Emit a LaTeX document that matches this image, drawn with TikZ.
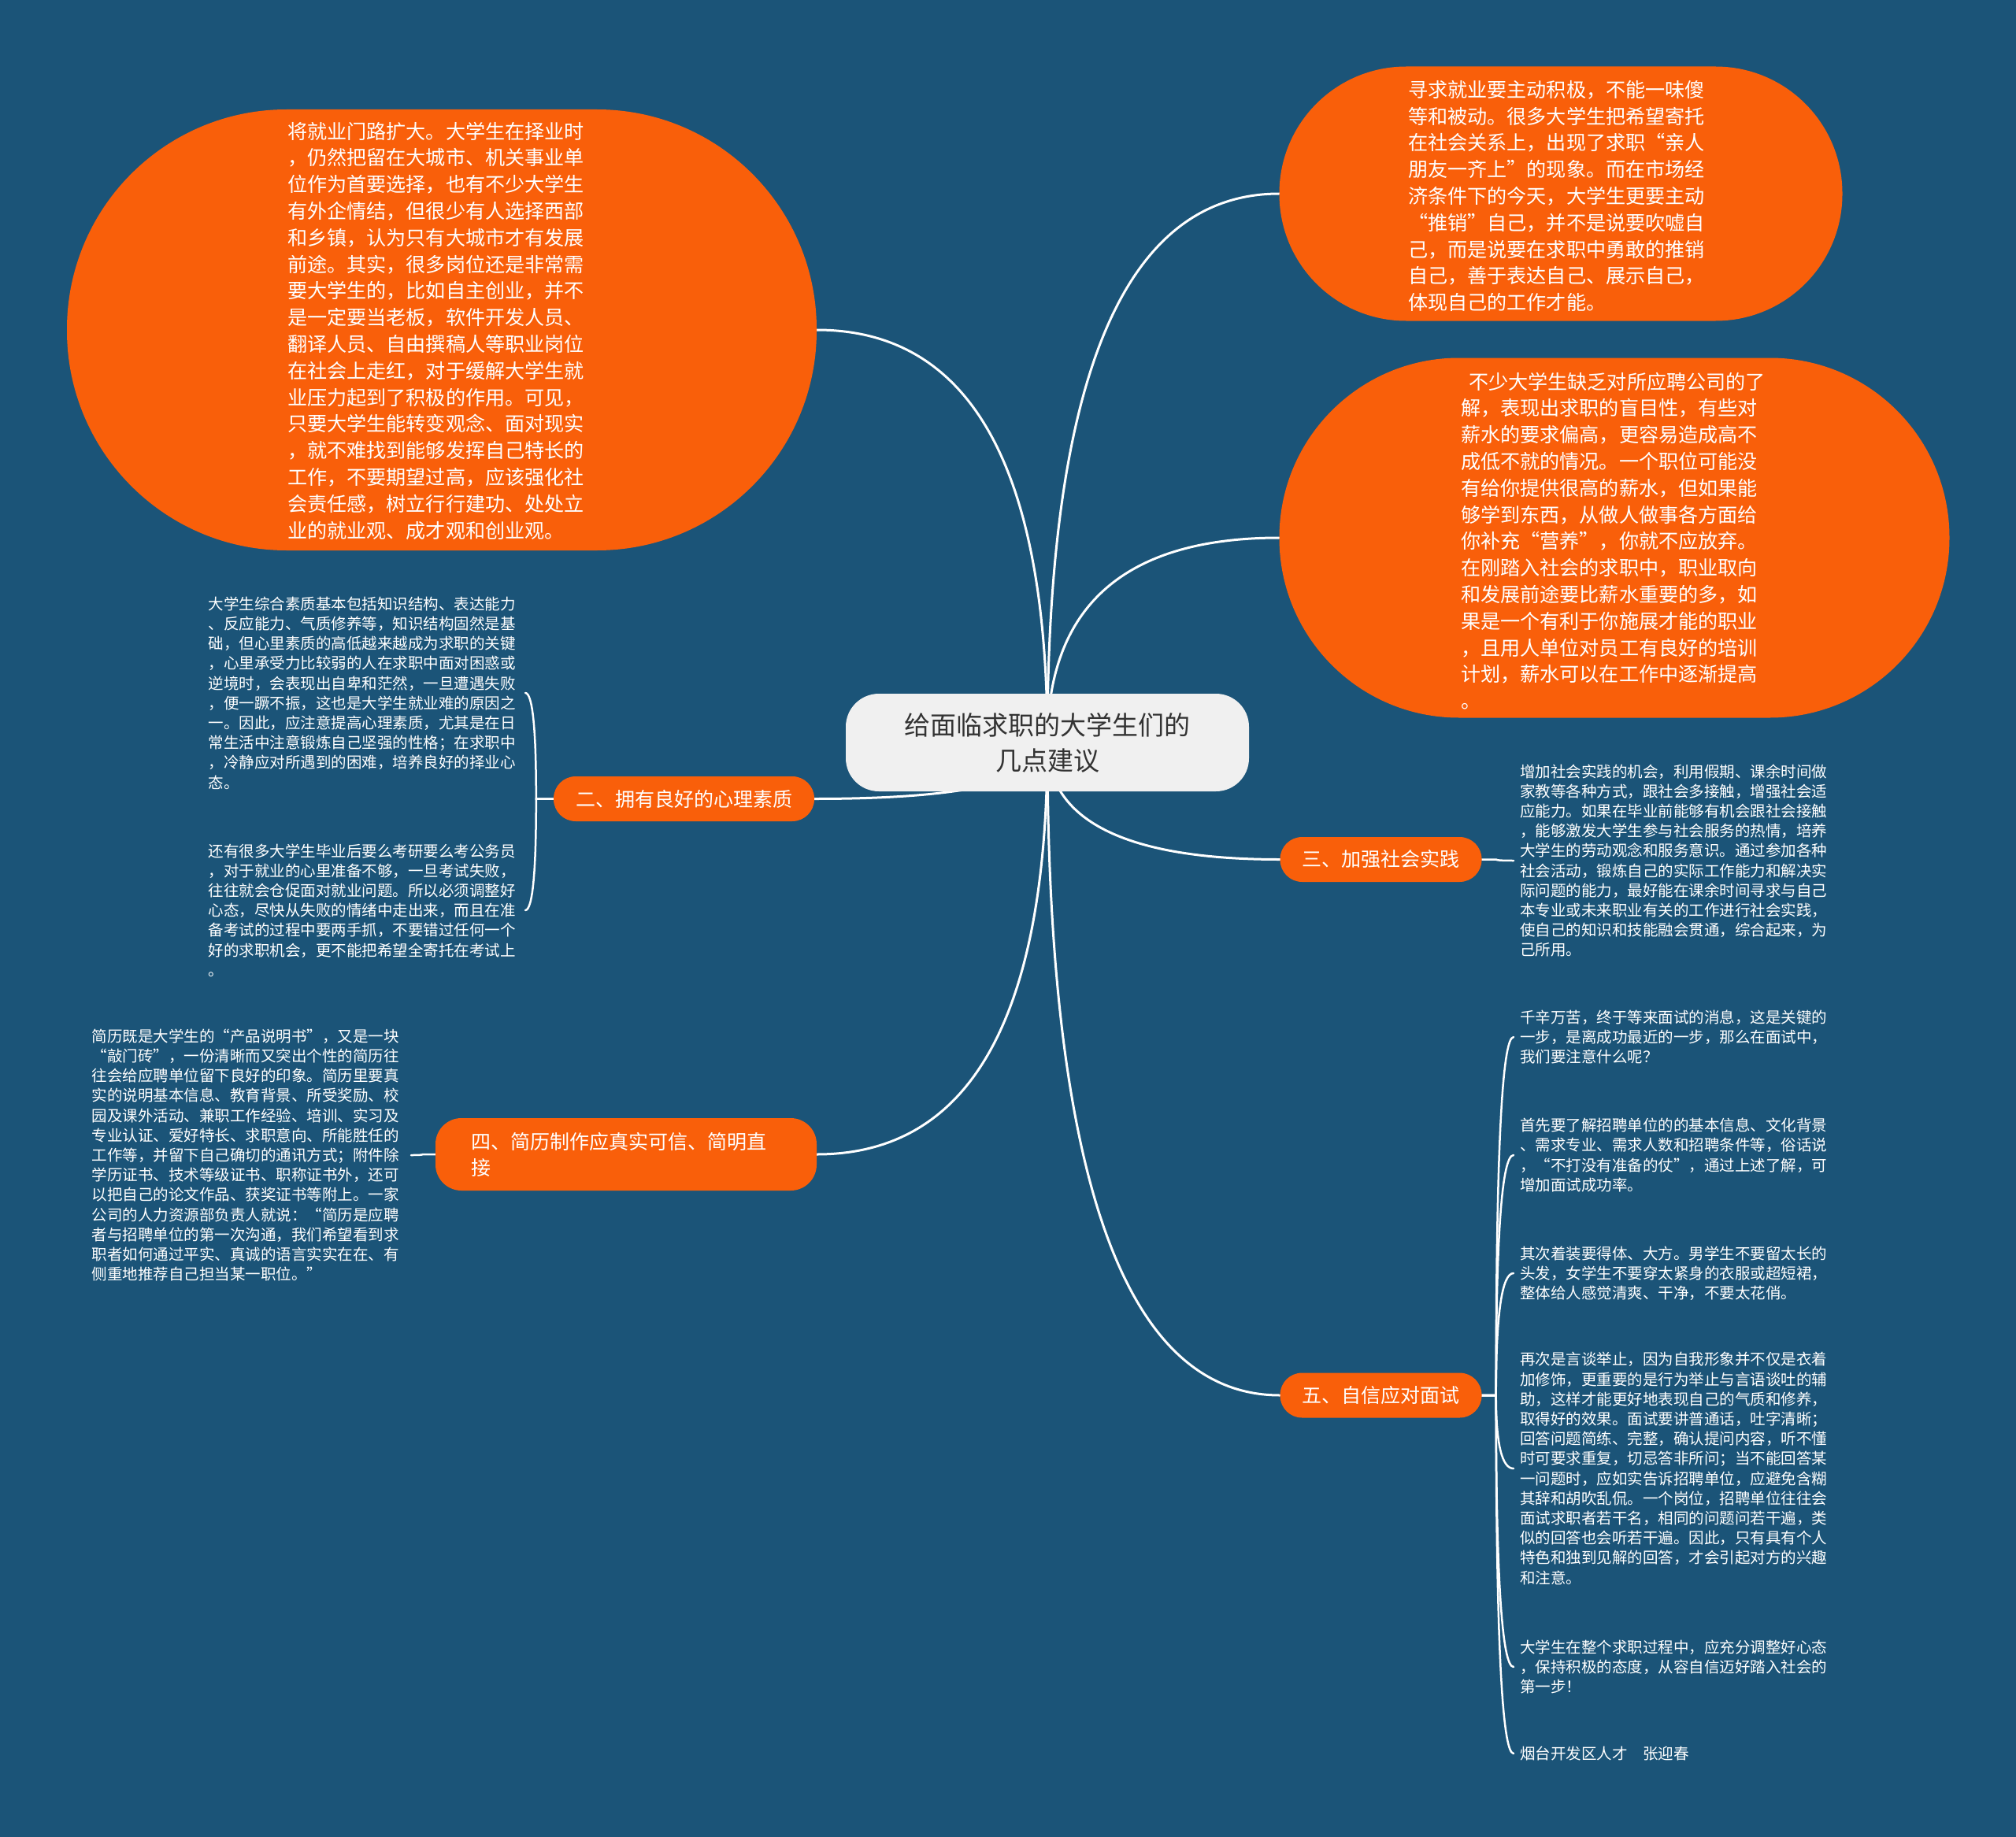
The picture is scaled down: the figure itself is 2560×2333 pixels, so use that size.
\documentclass[tikz,border=0pt]{standalone}
\usepackage{fontspec}
\setmainfont{Noto Sans CJK SC}
\usetikzlibrary{calc}
\definecolor{bgc}{HTML}{1B5478}
\definecolor{orn}{HTML}{F95F0A}
\definecolor{rootc}{HTML}{F0F0F0}
\definecolor{roottxt}{HTML}{333333}
\pgfdeclarelayer{bgl}
\pgfdeclarelayer{linkl}
\pgfsetlayers{bgl,linkl,main}
\tikzset{
  rootnode/.style={fill=rootc, text=roottxt, rounded corners=42pt, minimum width=512pt, minimum height=124pt, align=center, inner sep=0pt, font=\fontsize{33pt}{45pt}\selectfont},
  blob/.style={fill=orn, inner sep=0pt},
  blobtext/.style={text=white, align=left, text width=384pt, inner sep=0pt, anchor=west, font=\fontsize{25.1pt}{33.8pt}\selectfont},
  topic/.style={fill=orn, text=white, rounded corners=28pt, minimum height=57pt, inner xsep=28pt, inner ysep=0pt, font=\fontsize{25pt}{33pt}\selectfont},
  leaf/.style={text=white, align=left, text width=397pt, inner xsep=5pt, inner ysep=2pt, font=\fontsize{19.5pt}{25.2pt}\selectfont},
  link/.style={draw=white, line width=3pt, line cap=round},
  sublink/.style={draw=white, line width=2.5pt, line cap=round},
  rootlink/.style={to path={let \p1=(\tikztostart), \p2=(\tikztotarget) in
     .. controls (\x1,{\y1+0.6667*(\y2-\y1)}) and ({\x2+0.6667*(\x1-\x2)},\y2) .. (\tikztotarget)}},
  leaflink/.style={to path={let \p1=(\tikztostart), \p2=(\tikztotarget), \p3=({\x1+(#1)},\y1) in
     -- (\p3) .. controls (\x3,{\y3+0.6667*(\y2-\y3)}) and ({\x2+0.6667*(\x3-\x2)},\y2) .. (\tikztotarget)}},
}
\begin{document}
\begin{tikzpicture}[x=1pt,y=-1pt]
\useasboundingbox (0,0) rectangle (2560,2333);
\begin{pgfonlayer}{bgl}
\fill[bgc] (0,0) rectangle (2560,2333);
\end{pgfonlayer}

\node[rootnode] (root) at (1330,943) {给面临求职的大学生们的\\几点建议};

\node[blob, minimum width=952pt, minimum height=560pt, rounded corners=279pt] (tl) at (561,419) {};
\node[blobtext] (tltext) at (365,420) {将就业门路扩大。大学生在择业时\\
，仍然把留在大城市、机关事业单\\
位作为首要选择，也有不少大学生\\
有外企情结，但很少有人选择西部\\
和乡镇，认为只有大城市才有发展\\
前途。其实，很多岗位还是非常需\\
要大学生的，比如自主创业，并不\\
是一定要当老板，软件开发人员、\\
翻译人员、自由撰稿人等职业岗位\\
在社会上走红，对于缓解大学生就\\
业压力起到了积极的作用。可见，\\
只要大学生能转变观念、面对现实\\
，就不难找到能够发挥自己特长的\\
工作，不要期望过高，应该强化社\\
会责任感，树立行行建功、处处立\\
业的就业观、成才观和创业观。};

\node[blob, minimum width=715pt, minimum height=323pt, rounded corners=161pt] (tr) at (1982,246) {};
\node[blobtext] (trtext) at (1788,249) {寻求就业要主动积极，不能一味傻\\
等和被动。很多大学生把希望寄托\\
在社会关系上，出现了求职“亲人\\
朋友一齐上”的现象。而在市场经\\
济条件下的今天，大学生更要主动\\
“推销”自己，并不是说要吹嘘自\\
己，而是说要在求职中勇敢的推销\\
自己，善于表达自己、展示自己，\\
体现自己的工作才能。};

\node[blob, minimum width=851pt, minimum height=457pt, rounded corners=228pt] (rr) at (2050,683) {};
\node[blobtext] (rrtext) at (1855,687) {\hspace*{10pt}不少大学生缺乏对所应聘公司的了\\
解，表现出求职的盲目性，有些对\\
薪水的要求偏高，更容易造成高不\\
成低不就的情况。一个职位可能没\\
有给你提供很高的薪水，但如果能\\
够学到东西，从做人做事各方面给\\
你补充“营养”，你就不应放弃。\\
在刚踏入社会的求职中，职业取向\\
和发展前途要比薪水重要的多，如\\
果是一个有利于你施展才能的职业\\
，且用人单位对员工有良好的培训\\
计划，薪水可以在工作中逐渐提高\\
。};

\node[topic] (t2) at (868.5,1014.5) {二、拥有良好的心理素质};
\node[topic] (t3) at (1753.5,1091.5) {三、加强社会实践};
\node[topic, text width=394pt, align=left, minimum width=484pt, minimum height=92pt, rounded corners=33pt, inner xsep=45pt] (t4) at (795,1466) {四、简历制作应真实可信、简明直\\接};
\node[topic] (t5) at (1753.5,1772) {五、自信应对面试};

\node[leaf, anchor=east] (l21) at (667,880) {大学生综合素质基本包括知识结构、表达能力\\
、反应能力、气质修养等，知识结构固然是基\\
础，但心里素质的高低越来越成为求职的关键\\
，心里承受力比较弱的人在求职中面对困惑或\\
逆境时，会表现出自卑和茫然，一旦遭遇失败\\
，便一蹶不振，这也是大学生就业难的原因之\\
一。因此，应注意提高心理素质，尤其是在日\\
常生活中注意锻炼自己坚强的性格；在求职中\\
，冷静应对所遇到的困难，培养良好的择业心\\
态。};
\node[leaf, anchor=east] (l22) at (667,1156) {还有很多大学生毕业后要么考研要么考公务员\\
，对于就业的心里准备不够，一旦考试失败，\\
往往就会仓促面对就业问题。所以必须调整好\\
心态，尽快从失败的情绪中走出来，而且在准\\
备考试的过程中要两手抓，不要错过任何一个\\
好的求职机会，更不能把希望全寄托在考试上\\
。};
\node[leaf, anchor=east, text width=400pt] (l41) at (522,1467) {简历既是大学生的“产品说明书”，又是一块\\
“敲门砖”，一份清晰而又突出个性的简历往\\
往会给应聘单位留下良好的印象。简历里要真\\
实的说明基本信息、教育背景、所受奖励、校\\
园及课外活动、兼职工作经验、培训、实习及\\
专业认证、爱好特长、求职意向、所能胜任的\\
工作等，并留下自己确切的通讯方式；附件除\\
学历证书、技术等级证书、职称证书外，还可\\
以把自己的论文作品、获奖证书等附上。一家\\
公司的人力资源部负责人就说：“简历是应聘\\
者与招聘单位的第一次沟通，我们希望看到求\\
职者如何通过平实、真诚的语言实实在在、有\\
侧重地推荐自己担当某一职位。”};
\node[leaf, anchor=west, inner xsep=8pt] (l31) at (1922,1093) {增加社会实践的机会，利用假期、课余时间做\\
家教等各种方式，跟社会多接触，增强社会适\\
应能力。如果在毕业前能够有机会跟社会接触\\
，能够激发大学生参与社会服务的热情，培养\\
大学生的劳动观念和服务意识。通过参加各种\\
社会活动，锻炼自己的实际工作能力和解决实\\
际问题的能力，最好能在课余时间寻求与自己\\
本专业或未来职业有关的工作进行社会实践，\\
使自己的知识和技能融会贯通，综合起来，为\\
己所用。};
\node[leaf, anchor=west, inner xsep=8pt] (l51) at (1922,1317) {千辛万苦，终于等来面试的消息，这是关键的\\
一步，是离成功最近的一步，那么在面试中，\\
我们要注意什么呢？};
\node[leaf, anchor=west, inner xsep=8pt] (l52) at (1922,1467) {首先要了解招聘单位的的基本信息、文化背景\\
、需求专业、需求人数和招聘条件等，俗话说\\
，“不打没有准备的仗”，通过上述了解，可\\
增加面试成功率。};
\node[leaf, anchor=west, inner xsep=8pt] (l53) at (1922,1617) {其次着装要得体、大方。男学生不要留太长的\\
头发，女学生不要穿太紧身的衣服或超短裙，\\
整体给人感觉清爽、干净，不要太花俏。};
\node[leaf, anchor=west, inner xsep=8pt] (l54) at (1922,1865) {再次是言谈举止，因为自我形象并不仅是衣着\\
加修饰，更重要的是行为举止与言语谈吐的辅\\
助，这样才能更好地表现自己的气质和修养，\\
取得好的效果。面试要讲普通话，吐字清晰；\\
回答问题简练、完整，确认提问内容，听不懂\\
时可要求重复，切忌答非所问；当不能回答某\\
一问题时，应如实告诉招聘单位，应避免含糊\\
其辞和胡吹乱侃。一个岗位，招聘单位往往会\\
面试求职者若干名，相同的问题问若干遍，类\\
似的回答也会听若干遍。因此，只有具有个人\\
特色和独到见解的回答，才会引起对方的兴趣\\
和注意。};
\node[leaf, anchor=west, inner xsep=8pt] (l55) at (1922,2117) {大学生在整个求职过程中，应充分调整好心态\\
，保持积极的态度，从容自信迈好踏入社会的\\
第一步！};
\node[leaf, anchor=west, inner xsep=8pt] (l56) at (1922,2227) {烟台开发区人才　张迎春};

\begin{pgfonlayer}{linkl}
\draw[link] (root.center) to[rootlink] (tl.east);
\draw[link] (root.center) to[rootlink] (tr.west);
\draw[link] (root.center) to[rootlink] (rr.west);
\draw[link] (root.center) to[rootlink] (t2.east);
\draw[link] (root.center) to[rootlink] (t3.west);
\draw[link] (root.center) to[rootlink] (t4.east);
\draw[link] (root.center) to[rootlink] (t5.west);
\draw[sublink] (t2.west) to[leaflink=-22pt] (l21.east);
\draw[sublink] (t2.west) to[leaflink=-22pt] (l22.east);
\draw[sublink] (t3.east) to[leaflink=18pt] (l31.west);
\draw[sublink] (t4.west) to[leaflink=-16pt] (l41.east);
\draw[sublink] (t5.east) to[leaflink=18pt] (l51.west);
\draw[sublink] (t5.east) to[leaflink=18pt] (l52.west);
\draw[sublink] (t5.east) to[leaflink=18pt] (l53.west);
\draw[sublink] (t5.east) to[leaflink=18pt] (l54.west);
\draw[sublink] (t5.east) to[leaflink=18pt] (l55.west);
\draw[sublink] (t5.east) to[leaflink=18pt] (l56.west);
\end{pgfonlayer}
\end{tikzpicture}
\end{document}
